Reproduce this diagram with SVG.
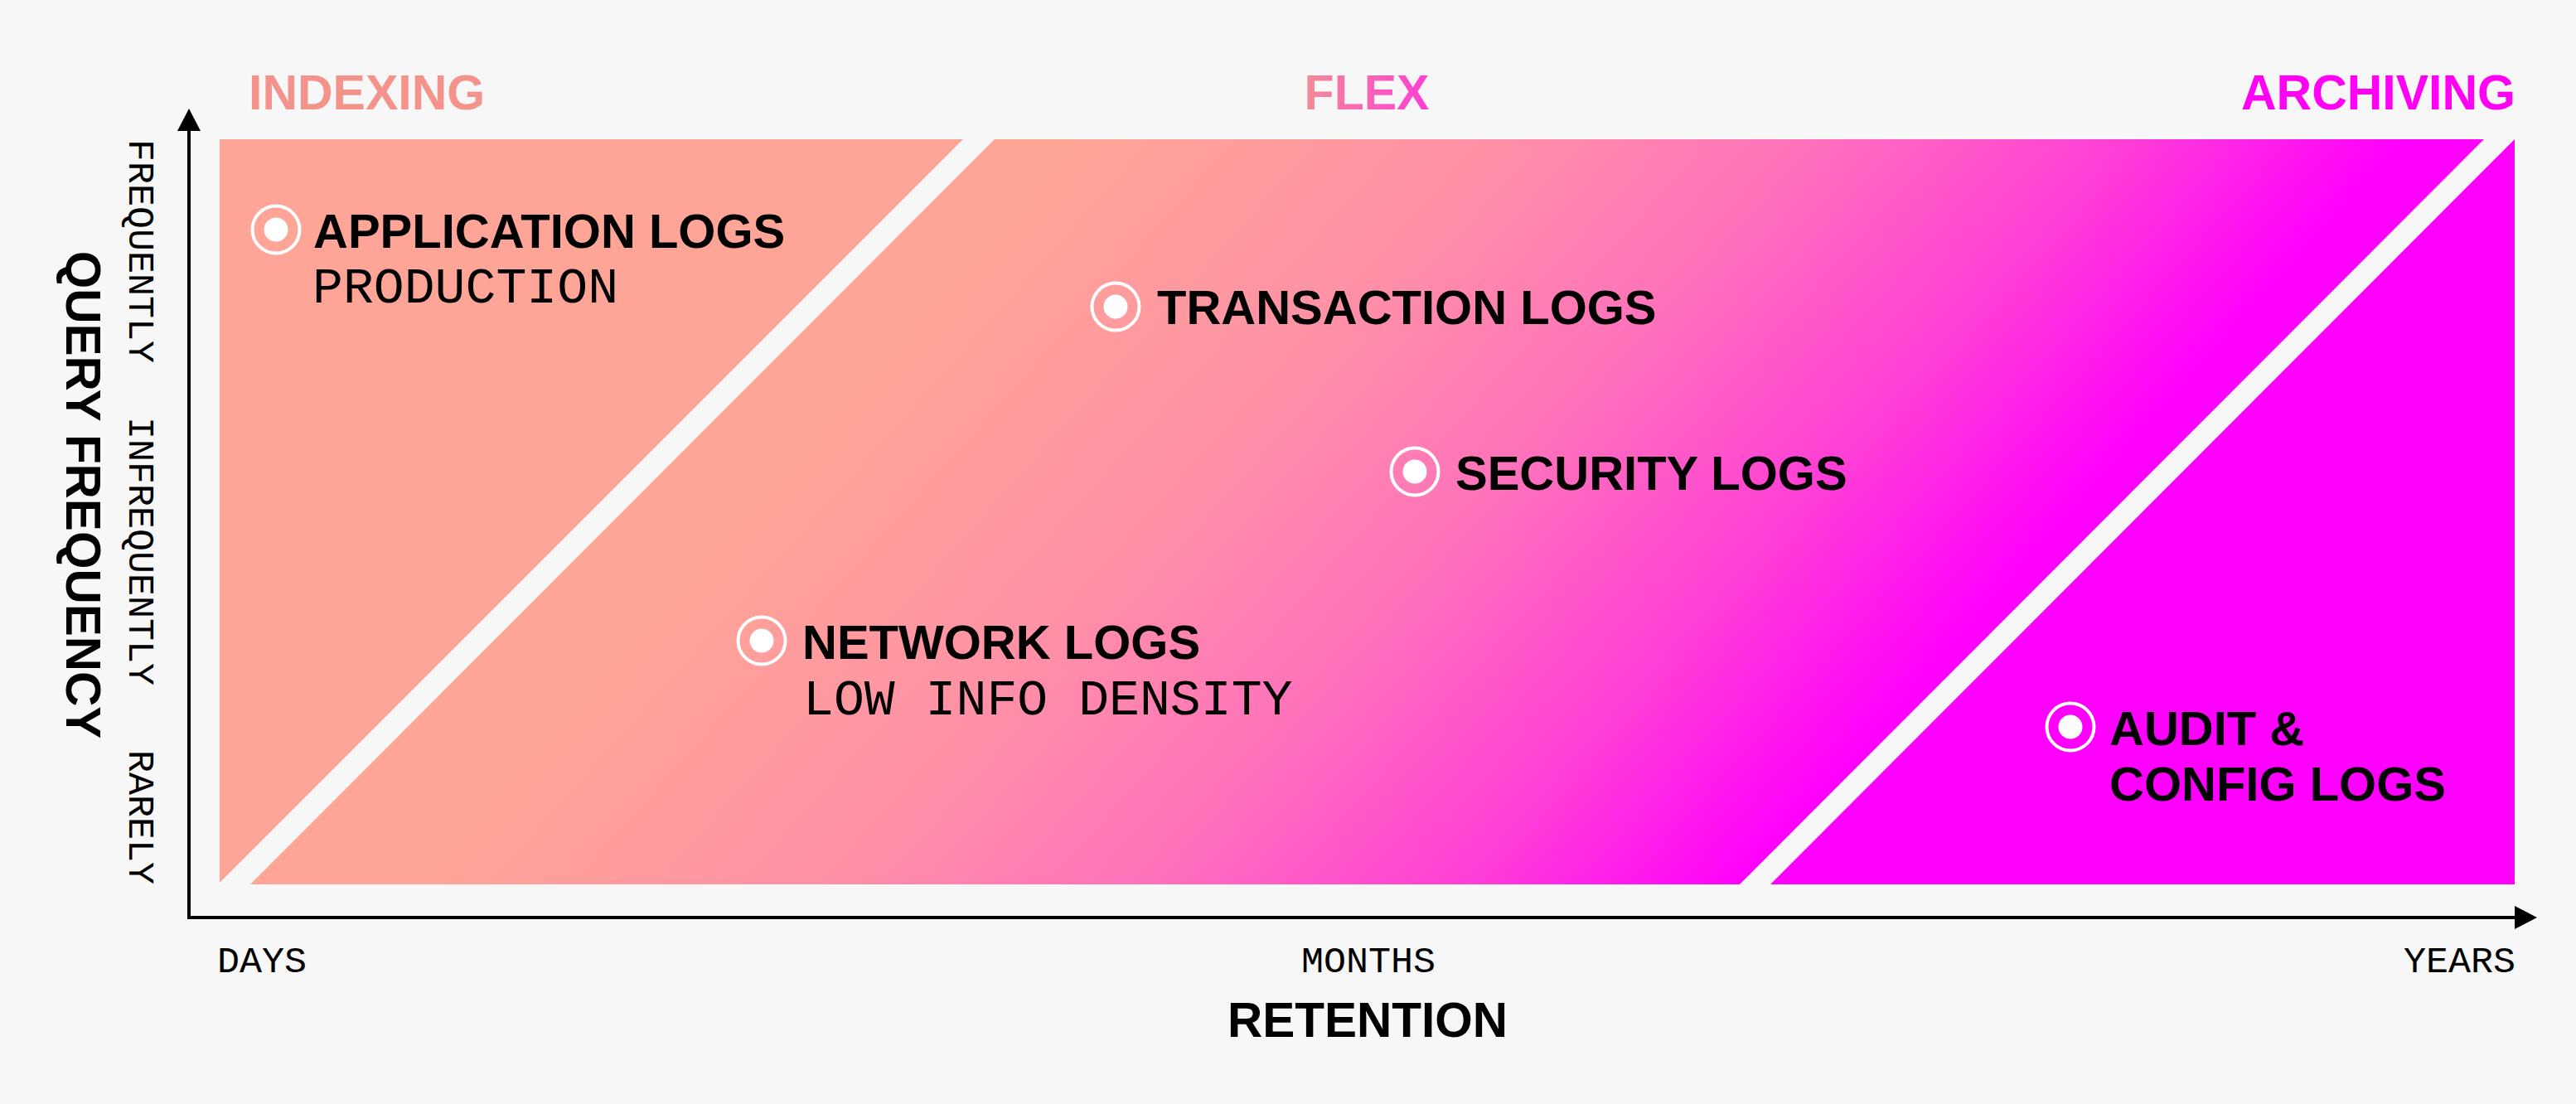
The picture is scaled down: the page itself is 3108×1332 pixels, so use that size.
<svg xmlns="http://www.w3.org/2000/svg" width="3108" height="1332" viewBox="0 0 3108 1332">
  <style>
    .hdr { font-family: "Liberation Sans", Arial, sans-serif; font-weight: 700; font-size: 59px; }
    .title { font-family: "Liberation Sans", Arial, sans-serif; font-weight: 700; font-size: 58px; fill: #000; }
    .axt { font-family: "Liberation Sans", Arial, sans-serif; font-weight: 700; font-size: 58.5px; fill: #000; }
    .sub { font-family: "Liberation Mono", "DejaVu Sans Mono", monospace; font-size: 61.5px; fill: #000; }
    .tick { font-family: "Liberation Mono", "DejaVu Sans Mono", monospace; font-size: 45px; fill: #000; }
    .axis { stroke: #000; stroke-width: 4; fill: none; }
  </style>
  <defs>
    <linearGradient id="mid" gradientUnits="userSpaceOnUse" x1="1300" y1="168" x2="2194" y2="964">
      <stop offset="0" stop-color="#ffa596"/>
      <stop offset="0.3" stop-color="#ff92a6"/>
      <stop offset="0.55" stop-color="#ff72bb"/>
      <stop offset="0.8" stop-color="#ff3cd8"/>
      <stop offset="1" stop-color="#ff00fc"/>
    </linearGradient>
    <linearGradient id="flexg" x1="0" y1="0" x2="1" y2="0">
      <stop offset="0" stop-color="#f48b98"/>
      <stop offset="1" stop-color="#ff3ed4"/>
    </linearGradient>
    <marker id="arrow" markerUnits="userSpaceOnUse" markerWidth="28" markerHeight="30" refX="0" refY="15" orient="auto">
      <path d="M0,1 L27,15 L0,29 Z" fill="#000"/>
    </marker>
    <g id="dot">
      <circle r="28.5" fill="none" stroke="#fff" stroke-width="4"/>
      <circle r="14.5" fill="#fff"/>
    </g>
  </defs>

  <rect width="3108" height="1332" fill="#f7f7f7"/>

  <g id="zones">
    <polygon id="zone-indexing" points="265,168 1162,168 265,1065" fill="#ffa597"/>
    <polygon id="zone-flex" points="1200,168 2997,168 2099,1067 302,1067" fill="url(#mid)"/>
    <polygon id="zone-archiving" points="3034,168 3034,1067 2136,1067" fill="#ff00fe"/>
  </g>

  <g id="headers">
    <text class="hdr" x="300" y="132" fill="#f3938c">INDEXING</text>
    <text class="hdr" x="1649" y="132" text-anchor="middle" fill="url(#flexg)">FLEX</text>
    <text class="hdr" x="3035" y="132" text-anchor="end" fill="#ff00f4">ARCHIVING</text>
  </g>

  <g id="connectors">
    <line class="axis" x1="228" y1="1109" x2="228" y2="158" marker-end="url(#arrow)"/>
    <line class="axis" x1="226" y1="1107" x2="3034" y2="1107" marker-end="url(#arrow)"/>
  </g>

  <g id="axis-labels">
    <text class="tick" x="262" y="1173">DAYS</text>
    <text class="tick" x="1651" y="1173" text-anchor="middle">MONTHS</text>
    <text class="tick" x="3035" y="1173" text-anchor="end">YEARS</text>
    <text class="axt" x="1650" y="1251" text-anchor="middle">RETENTION</text>
    <text class="axt" transform="translate(80,597) rotate(90)" text-anchor="middle">QUERY FREQUENCY</text>
    <text class="tick" transform="translate(156,168) rotate(90)">FREQUENTLY</text>
    <text class="tick" transform="translate(156,503) rotate(90)">INFREQUENTLY</text>
    <text class="tick" transform="translate(156,905) rotate(90)">RARELY</text>
  </g>

  <g id="node-application">
    <use href="#dot" x="333" y="277"/>
    <text class="title" x="378" y="299">APPLICATION LOGS</text>
    <text class="sub" x="377" y="365">PRODUCTION</text>
  </g>
  <g id="node-transaction">
    <use href="#dot" x="1346" y="370"/>
    <text class="title" x="1396" y="391">TRANSACTION LOGS</text>
  </g>
  <g id="node-security">
    <use href="#dot" x="1707" y="569"/>
    <text class="title" x="1756" y="591">SECURITY LOGS</text>
  </g>
  <g id="node-network">
    <use href="#dot" x="919" y="773"/>
    <text class="title" x="968" y="795">NETWORK LOGS</text>
    <text class="sub" x="969" y="862">LOW INFO DENSITY</text>
  </g>
  <g id="node-audit">
    <use href="#dot" x="2498" y="877"/>
    <text class="title" x="2545" y="899">AUDIT &amp;</text>
    <text class="title" x="2545" y="966">CONFIG LOGS</text>
  </g>
</svg>
